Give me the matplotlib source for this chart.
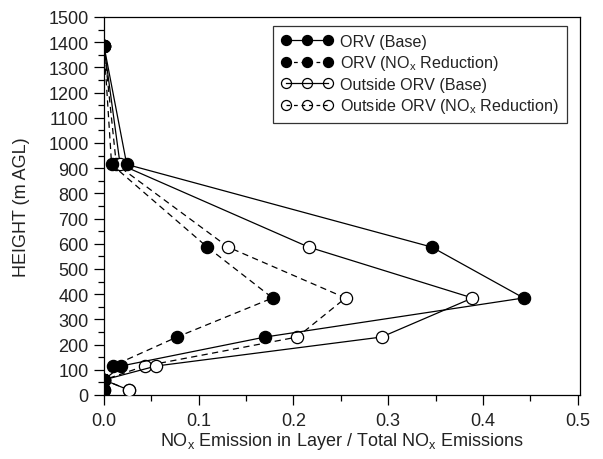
import matplotlib
matplotlib.use("Agg")
import matplotlib.pyplot as plt
from matplotlib.lines import Line2D
from matplotlib.legend_handler import HandlerTuple
from matplotlib.ticker import MultipleLocator, FormatStrFormatter

plt.rcParams['font.family'] = ['Liberation Sans', 'DejaVu Sans']
plt.rcParams['mathtext.default'] = 'regular'

heights = [20, 60, 115, 230, 385, 587, 915, 1385]
orv_base = [0.0, 0.0, 0.018, 0.170, 0.443, 0.346, 0.024, 0.0]
orv_red = [0.0, 0.0, 0.009, 0.077, 0.178, 0.109, 0.008, 0.0]
out_base = [0.026, 0.0, 0.055, 0.293, 0.389, 0.216, 0.017, 0.0]
out_red = [0.026, 0.0, 0.043, 0.204, 0.255, 0.131, 0.013, 0.0]

labels = ['ORV (Base)', 'ORV (NO$_x$ Reduction)',
          'Outside ORV (Base)', 'Outside ORV (NO$_x$ Reduction)']

fig = plt.figure(figsize=(6.03, 4.60), dpi=100)
ax = fig.add_axes([104/603, 64/460, 476/603, 378/460])

dash = (0, (5, 3.5))
lw = 0.9
ms = 8.8
series = [(orv_base, '-', 'black'), (orv_red, dash, 'black'),
          (out_base, '-', 'white'), (out_red, dash, 'white')]
for vals, ls, fc in series[::-1]:
    ax.plot(vals, heights, linestyle=ls, color='black', lw=lw, marker='o',
            ms=ms, mfc=fc, mec='black', mew=0.9,
            zorder=4 if fc == 'black' else 3)

handles = []
for vals, ls, fc in series:
    mk = Line2D([], [], linestyle='none', marker='o', ms=ms * 0.82, mfc=fc,
                mec='black', mew=0.9)
    ln = Line2D([], [], linestyle=(0, (3, 3)) if ls != '-' else '-', color='black', lw=lw)
    handles.append((mk, ln))

ax.set_xlim(0, 0.5025)
ax.set_ylim(0, 1500)
ax.xaxis.set_major_locator(MultipleLocator(0.1))
ax.xaxis.set_minor_locator(MultipleLocator(0.05))
ax.yaxis.set_major_locator(MultipleLocator(100))
ax.yaxis.set_minor_locator(MultipleLocator(50))
ax.xaxis.set_major_formatter(FormatStrFormatter('%.1f'))
ax.tick_params(which='major', direction='out', length=7, width=0.9, labelsize=13,
               colors='black', labelcolor='#222222', pad=4)
ax.tick_params(axis='x', which='major', pad=5.5)
ax.tick_params(which='minor', direction='out', length=4.5, width=0.9)
for s in ax.spines.values():
    s.set_linewidth(0.9)

ax.set_xlabel('NO$_x$ Emission in Layer / Total NO$_x$ Emissions', fontsize=13,
              color='#222222', labelpad=0.5)
ax.set_ylabel('HEIGHT (m AGL)', fontsize=13, color='#222222', labelpad=13)

leg = ax.legend(handles, labels, loc='upper right', bbox_to_anchor=(0.973, 0.977),
                numpoints=3, handlelength=3.2, fontsize=11.6, frameon=True,
                fancybox=False, edgecolor='black', borderpad=0.5, labelspacing=0.28,
                handletextpad=0.45, borderaxespad=0,
                handler_map={tuple: HandlerTuple(ndivide=1, pad=0)})
leg.get_frame().set_linewidth(0.9)
for t in leg.get_texts():
    t.set_color('#222222')

fig.savefig('out.png', dpi=100)
